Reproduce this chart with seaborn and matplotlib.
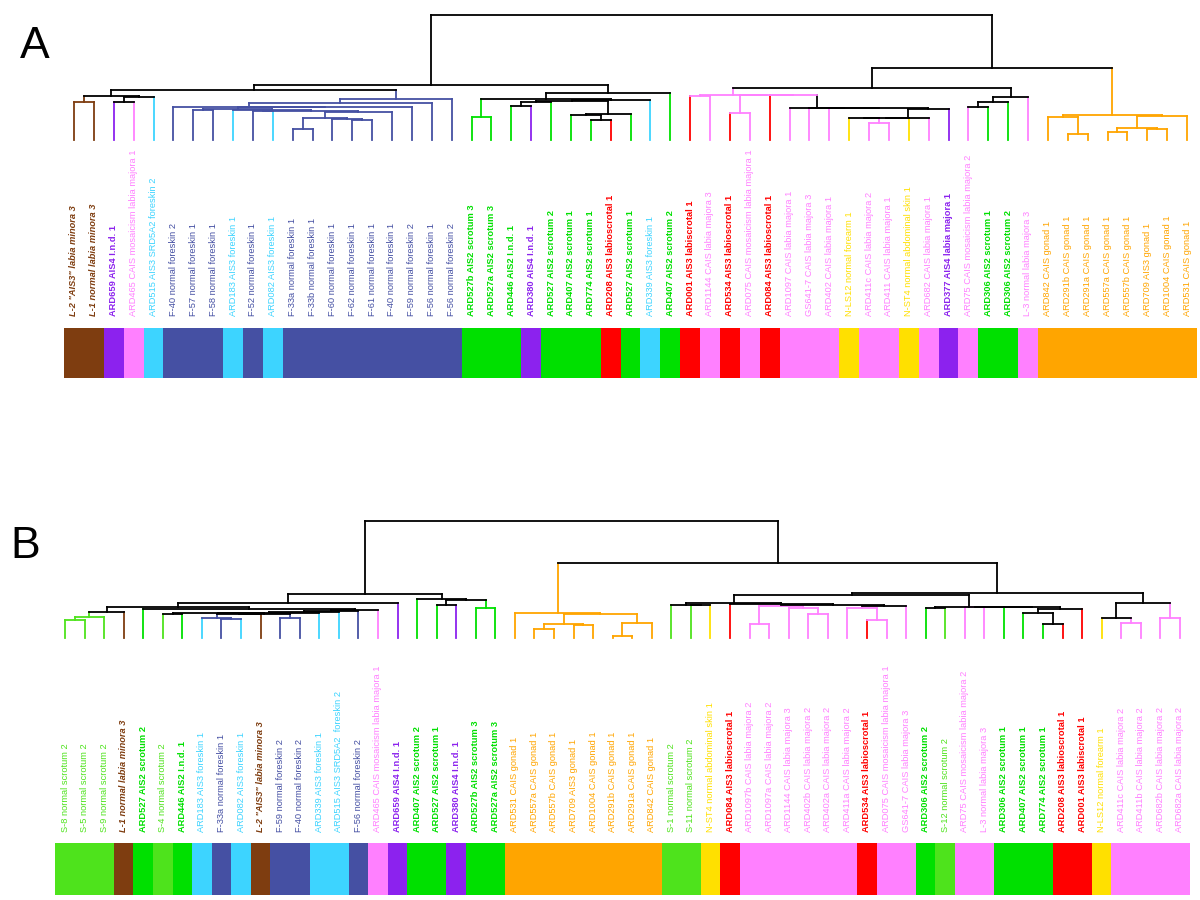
import matplotlib
matplotlib.use('Agg')
import matplotlib.pyplot as plt
import matplotlib.transforms as mtransforms
from matplotlib.colors import ListedColormap
import numpy as np
import seaborn as sns

# ---- leaf labels (left to right) ----
labels_a = [
    'L-2 "AIS3" labia minora 3', 'L-1 normal labia minora 3', 'ARD659 AIS4 I.n.d. 1',
    'ARD465 CAIS mosaicism labia majora 1', 'ARD515 AIS3 SRD5A2 foreskin 2',
    'F-40 normal foreskin 2', 'F-57 normal foreskin 1', 'F-58 normal foreskin 1',
    'ARD183 AIS3 foreskin 1', 'F-52 normal foreskin 1', 'ARD082 AIS3 foreskin 1',
    'F-33a normal foreskin 1', 'F-33b normal foreskin 1', 'F-60 normal foreskin 1',
    'F-62 normal foreskin 1', 'F-61 normal foreskin 1', 'F-40 normal foreskin 1',
    'F-59 normal foreskin 2', 'F-56 normal foreskin 1', 'F-56 normal foreskin 2',
    'ARD527b AIS2 scrotum 3', 'ARD527a AIS2 scrotum 3', 'ARD446 AIS2 I.n.d. 1',
    'ARD380 AIS4 I.n.d. 1', 'ARD527 AIS2 scrotum 2', 'ARD407 AIS2 scrotum 1',
    'ARD774 AIS2 scrotum 1', 'ARD208 AIS3 labioscrotal 1', 'ARD527 AIS2 scrotum 1',
    'ARD339 AIS3 foreskin 1', 'ARD407 AIS2 scrotum 2', 'ARD001 AIS3 labiscrotal 1',
    'ARD1144 CAIS labia majora 3', 'ARD534 AIS3 labioscrotal 1',
    'ARD075 CAIS mosaicism labia majora 1', 'ARD084 AIS3 labioscrotal 1',
    'ARD1097 CAIS labia majora 1', 'GS641-7 CAIS labia majora 3', 'ARD402 CAIS labia majora 1',
    'N-LS12 normal forearm 1', 'ARD411c CAIS labia majora 2', 'ARD411 CAIS labia majora 1',
    'N-ST4 normal abdominal skin 1', 'ARD682 CAIS labia majora 1', 'ARD377 AIS4 labia majora 1',
    'ARD75 CAIS mosaicism labia majora 2', 'ARD306 AIS2 scrotum 1', 'ARD306 AIS2 scrotum 2',
    'L-3 normal labia majora 3', 'ARD842 CAIS gonad 1', 'ARD291b CAIS gonad 1',
    'ARD291a CAIS gonad 1', 'ARD557a CAIS gonad 1', 'ARD557b CAIS gonad 1',
    'ARD709 AIS3 gonad 1', 'ARD1004 CAIS gonad 1', 'ARD531 CAIS gonad 1',
]

labels_b = [
    'S-8 normal scrotum 2', 'S-5 normal scrotum 2', 'S-9 normal scrotum 2',
    'L-1 normal labia minora 3', 'ARD527 AIS2 scrotum 2', 'S-4 normal scrotum 2',
    'ARD446 AIS2 I.n.d. 1', 'ARD183 AIS3 foreskin 1', 'F-33a normal foreskin 1',
    'ARD082 AIS3 foreskin 1', 'L-2 "AIS3" labia minora 3', 'F-59 normal foreskin 2',
    'F-40 normal foreskin 2', 'ARD339 AIS3 foreskin 1', 'ARD515 AIS3 SRD5A2  foreskin 2',
    'F-56 normal foreskin 2', 'ARD465 CAIS mosaicism labia majora 1', 'ARD659 AIS4 I.n.d. 1',
    'ARD407 AIS2 scrotum 2', 'ARD527 AIS2 scrotum 1', 'ARD380 AIS4 I.n.d. 1',
    'ARD527b AIS2 scrotum 3', 'ARD527a AIS2 scrotum 3', 'ARD531 CAIS gonad 1',
    'ARD557a CAIS gonad 1', 'ARD557b CAIS gonad 1', 'ARD709 AIS3 gonad 1',
    'ARD1004 CAIS gonad 1', 'ARD291b CAIS gonad 1', 'ARD291a CAIS gonad 1',
    'ARD842 CAIS gonad 1', 'S-1 normal scrotum 2', 'S-11 normal scrotum 2',
    'N-ST4 normal abdominal skin 1', 'ARD084 AIS3 labioscrotal 1',
    'ARD1097b CAIS labia majora 2', 'ARD1097a CAIS labia majora 2',
    'ARD1144 CAIS labia majora 3', 'ARD402b CAIS labia majora 2',
    'ARD402a CAIS labia majora 2', 'ARD411a CAIS labia majora 2',
    'ARD534 AIS3 labioscrotal 1', 'ARD075 CAIS mosaicism labia majora 1',
    'GS641-7 CAIS labia majora 3', 'ARD306 AIS2 scrotum 2', 'S-12 normal scrotum 2',
    'ARD75 CAIS mosaicism labia majora 2', 'L-3 normal labia majora 3',
    'ARD306 AIS2 scrotum 1', 'ARD407 AIS2 scrotum 1', 'ARD774 AIS2 scrotum 1',
    'ARD208 AIS3 labioscrotal 1', 'ARD001 AIS3 labiscrotal 1', 'N-LS12 normal forearm 1',
    'ARD411c CAIS labia majora 2', 'ARD411b CAIS labia majora 2',
    'ARD682b CAIS labia majora 2', 'ARD682a CAIS labia majora 2',
]

# ---- merge trees: (height, left, right[, clade colour]); ints are leaf indices ----
a_minora = (44, (38, 0, 1), (43, (38, 2, 3), 4))
a_foreskin = (41, (36.7, (33, 5, (32.7, (31, (30.5, 6, 7),
              (30, 8, (29.5, (29, 9, 10), (28, (22, (11, 11, 12), (21, 13, (20, 14, 15))), 16)))),
              17)), 18), 19)
a_scrotum = (47.5, (41.5, (23, 20, 21),
             (40, (39, (38, (34, 22, 23), 24), (26, (25.5, 25, (20, 26, 27)), 28)), 29)), 30)
a_majora = (45, (44.5, 31, 32, 'pink'),
            (44.8, (26.7, 33, 34, 'pink'),
             (44.6, 35, (32, 36, (31.8, 37, (31.6, 38, (31, (22.5, (22.3, (22, 39, (17.3, 40, 41)),
                                                                   42), 43), 44)))), 'pink'),
             'pink'), 'pink')
a_mixed = (43.3, (38.3, (33.3, 45, 46), 47), 48)
a_gonad = (25, (23.3, 49, (5.7, 50, 51)), (24.3, (12.3, (8.3, 52, 53), (11, 54, 55)), 56))
tree_a = (125, (55, (50, a_minora, a_foreskin), a_scrotum),
          (71.7, (51.7, a_majora, a_mixed), a_gonad))

b_skin = (35.3, (30.7, (25.7, (20.7, (18, 0, 1), 2), 3),
          (28.7, 4, (28.3, (27, (25.7, (25, (24.7, (23.7, 5, 6),
                                             (24.3, (24, (19.7, 7, (19.3, 8, 9)), 10), (19.7, 11, 12))),
                                        13), 14), 15), 16))), 17)
b_scrotum = (38.7, 18, (38, (33, 19, 20), (30.3, 21, 22)))
b_gonad = (25.3, 23, (24.5, (14, (8.7, 24, 25), (13.3, 26, 27)), (15.3, (2, 28, 29), 30)))
b_majora = (34.7, (33.5, 31, (33, 32, 33)),
            (34, 34, (33, (32.5, (13.7, 35, 36), (30.5, 37, (24, 38, 39))),
                      (32.5, (30, 40, (18, 41, 42, 'pink'), 'pink'), 43))))
b_mixed = (31.3, (30.5, 44, 45), (31, (30.6, 46, 47), (30.8, 48, (28.7, (24.7, 49, (13.7, 50, 51)), 52))))
b_forearm = (35.3, (19.7, 53, (14.7, 54, 55)), (19.7, 56, 57))
tree_b = (117, (43.7, b_skin, b_scrotum),
          (74.7, b_gonad, (44.7, (43.5, b_majora, b_mixed), b_forearm)))

palette = {
    'brown': '#7E3D10', 'purple': '#8C22EE', 'pink': '#FF80FF', 'cyan': '#3DD4FF',
    'navy': '#4550A3', 'green': '#00E000', 'lightgreen': '#4EE31C', 'red': '#FF0000',
    'yellow': '#FFE000', 'orange': '#FFA500',
}
group_order = list(palette)


def group_of(label):
    if 'gonad' in label:
        return 'orange'
    if 'labia minora' in label:
        return 'brown'
    if 'AIS4' in label:
        return 'purple'
    if 'labioscrotal' in label or 'labiscrotal' in label:
        return 'red'
    if 'foreskin' in label:
        return 'navy' if 'normal' in label else 'cyan'
    if 'forearm' in label or 'abdominal' in label:
        return 'yellow'
    if 'normal scrotum' in label:
        return 'lightgreen'
    if 'AIS2' in label:
        return 'green'
    return 'pink'


def draw_tree(ax, node, leaf_colours, lw=1.3):
    if isinstance(node, int):
        c = leaf_colours[node]
        return node, 0.0, c, {c}
    h, left, right = node[:3]
    xl, hl, cl, sl = draw_tree(ax, left, leaf_colours, lw)
    xr, hr, cr, sr = draw_tree(ax, right, leaf_colours, lw)
    seen = sl | sr
    if len(node) > 3:
        colour = palette[node[3]]
    elif len(seen) == 1:
        colour = next(iter(seen))
    elif seen <= {palette['navy'], palette['cyan']}:
        colour = palette['navy']
    else:
        colour = 'black'
    kw = dict(lw=lw, solid_capstyle='projecting', clip_on=False)
    ax.plot([xl, xl], [hl, h], color=cl, **kw)
    ax.plot([xr, xr], [hr, h], color=cr, **kw)
    ax.plot([xl, xr], [h, h], color=colour, **kw)
    return (xl + xr) / 2, h, colour, seen


W, H = 1200, 900
sns.set_theme(style='white')
plt.rcParams['font.family'] = ['Liberation Sans Narrow', 'Liberation Sans', 'DejaVu Sans']
fig = plt.figure(figsize=(W / 100, H / 100), dpi=100)
fig.patch.set_facecolor('white')


def px_axes(x0, y0, x1, y1):
    ax = fig.add_axes([x0 / W, 1 - y1 / H, (x1 - x0) / W, (y1 - y0) / H])
    ax.set_axis_off()
    return ax


def panel(labels, tree, first_leaf, step, base_y, top_y, label_y, bar_top, bar_bottom, letter, letter_xy):
    n = len(labels)
    groups = [group_of(l) for l in labels]
    leaf_colours = [palette[g] for g in groups]
    x0 = first_leaf - step / 2
    x1 = x0 + n * step

    ax = px_axes(x0, top_y, x1, base_y)
    draw_tree(ax, tree, leaf_colours)
    ax.set_xlim(-0.5, n - 0.5)
    ax.set_ylim(0, tree[0])

    trans = mtransforms.blended_transform_factory(ax.transData, fig.transFigure)
    for i, (lab, g) in enumerate(zip(labels, groups)):
        weight = 'bold' if g in ('green', 'purple', 'red', 'brown') else 'normal'
        style = 'italic' if g == 'brown' else 'normal'
        ax.text(i, 1 - label_y / H, lab, transform=trans, rotation=90, ha='center', va='bottom',
                fontsize=6.7, color=palette[g], fontweight=weight, fontstyle=style)

    bar_ax = px_axes(x0, bar_top, x1, bar_bottom)
    codes = np.array([[group_order.index(g) for g in groups]])
    sns.heatmap(codes, ax=bar_ax, cmap=ListedColormap([palette[g] for g in group_order]),
                vmin=-0.5, vmax=len(group_order) - 0.5, cbar=False,
                xticklabels=False, yticklabels=False, linewidths=0)

    fig.text(letter_xy[0] / W, 1 - letter_xy[1] / H, letter, fontsize=32,
             ha='center', va='center', color='black')


panel(labels_a, tree_a, 74, 19.875, 140, 15, 316, 328, 378, 'A', (35, 46))
panel(labels_b, tree_b, 65, 19.56, 638, 521, 832, 843, 895, 'B', (25, 546))

fig.savefig('out.png', dpi=100, facecolor='white')
